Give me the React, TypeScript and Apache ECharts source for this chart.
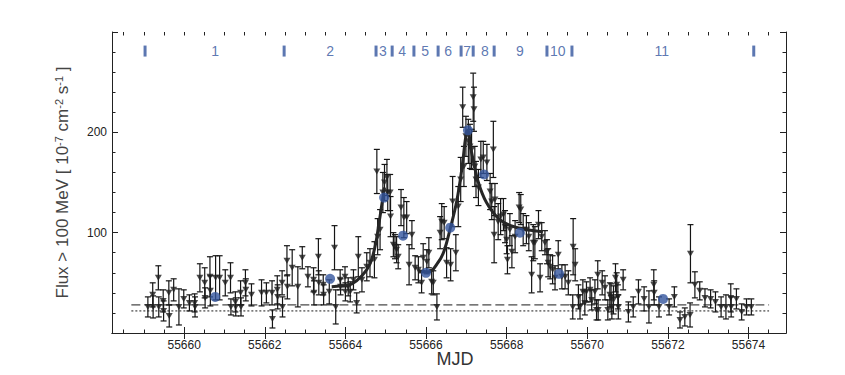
import React, { useEffect, useRef } from 'react';
import * as echarts from 'echarts';

const FONT = '"Liberation Sans", Arial, Helvetica, sans-serif';
const BLUE = '#33559e';
const INK = '#1e1e1e';

// x axis range (MJD) and tick labels
const xMin = 55658.21;
const xMax = 55674.93;
const xLabelValues = [55660, 55662, 55664, 55666, 55668, 55670, 55672, 55674];
const xMajorTicks = [55660, 55662, 55664, 55666, 55668, 55670, 55672, 55674];
const xMinorTicks = [
  55658.5, 55659, 55659.5, 55660, 55660.5, 55661, 55661.5, 55662, 55662.5, 55663, 55663.5,
  55664, 55664.5, 55665, 55665.5, 55666, 55666.5, 55667, 55667.5, 55668, 55668.5, 55669,
  55669.5, 55670, 55670.5, 55671, 55671.5, 55672, 55672.5, 55673, 55673.5, 55674, 55674.5,
];
const yMin = 0;
const yMax = 300;

// observation periods
const boundaryMjd = [55659.03, 55662.48, 55664.76, 55665.16, 55665.7, 55666.3, 55666.87, 55667.17, 55667.69, 55669.0, 55669.62, 55674.13];
const periodLabelMjd = [55660.77, 55663.62, 55664.93, 55665.41, 55665.98, 55666.55, 55667.02, 55667.46, 55668.33, 55669.27, 55671.85];
const periodNames = ['1', '2', '3', '4', '5', '6', '7', '8', '9', '10', '11'];
const periodBandFlux = 281;

// period averages (blue)
const avgMjd = [55660.77, 55663.62, 55664.96, 55665.43, 55666.0, 55666.6, 55667.04, 55667.44, 55668.33, 55669.3, 55671.88];
const avgFlux = [36, 54, 135, 97, 60, 105, 202, 158, 100, 59, 34];

// individual flux points
const obsMjd = [
  55659.10, 55659.22, 55659.23, 55659.36, 55659.37, 55659.48, 55659.49, 55659.62, 55659.63, 55659.74,
  55659.87, 55659.99, 55660.13, 55660.26, 55660.27, 55660.39, 55660.51, 55660.52, 55660.64, 55660.65,
  55660.78, 55660.88, 55661.02, 55661.15, 55661.16, 55661.27, 55661.28, 55661.40, 55661.41, 55661.52,
  55661.53, 55661.67, 55661.92, 55662.04, 55662.18, 55662.19, 55662.31, 55662.32, 55662.43, 55662.44,
  55662.55, 55662.56, 55662.68,
  55662.82, 55662.93, 55663.07, 55663.21, 55663.22, 55663.33, 55663.34, 55663.45, 55663.46, 55663.60,
  55663.73, 55663.76, 55663.87, 55663.88, 55663.99, 55664.00, 55664.07, 55664.12, 55664.20, 55664.28,
  55664.32, 55664.41, 55664.53, 55664.61, 55664.72, 55664.78, 55664.80, 55664.86, 55664.93, 55664.97,
  55665.03, 55665.05, 55665.11, 55665.12, 55665.19, 55665.23, 55665.27, 55665.31, 55665.38, 55665.45,
  55665.52, 55665.58, 55665.65, 55665.73, 55665.81, 55665.89, 55665.93, 55666.02, 55666.07, 55666.14,
  55666.18, 55666.27, 55666.35, 55666.39, 55666.45, 55666.51,
  55666.61, 55666.66, 55666.74, 55666.80, 55666.86, 55666.91, 55666.94, 55666.99, 55667.05, 55667.09,
  55667.13, 55667.17, 55667.19, 55667.21, 55667.24, 55667.30, 55667.36, 55667.42, 55667.51, 55667.59,
  55667.63, 55667.67, 55667.69, 55667.71, 55667.79, 55667.85, 55667.92, 55667.96, 55668.00, 55668.02,
  55668.08, 55668.13, 55668.21, 55668.31, 55668.35, 55668.41, 55668.49, 55668.55, 55668.62, 55668.66,
  55668.70, 55668.79, 55668.83, 55668.87, 55668.95, 55669.00, 55669.03, 55669.08, 55669.14, 55669.20,
  55669.28, 55669.37, 55669.45, 55669.53, 55669.64, 55669.65, 55669.70, 55669.78, 55669.82, 55669.89,
  55669.94, 55669.98, 55670.07, 55670.11, 55670.19, 55670.23,
  55670.26, 55670.27, 55670.37, 55670.44, 55670.51, 55670.56, 55670.59, 55670.61, 55670.65, 55670.70,
  55670.73, 55670.76, 55670.77, 55670.89, 55671.02, 55671.14, 55671.27, 55671.41, 55671.53, 55671.65,
  55671.66, 55671.78, 55672.03, 55672.16, 55672.30, 55672.42, 55672.55, 55672.56, 55672.67, 55672.79,
  55672.92, 55673.06, 55673.18, 55673.32, 55673.44, 55673.56, 55673.57, 55673.70, 55673.83, 55673.95,
  55674.07,
];
const obsFlux = [
  26, 38, 26, 55, 26, 32, 22, 40, 17, 43,
  26, 34, 30, 30, 26, 55, 50, 35, 56, 42,
  55, 55, 50, 55, 26, 31, 26, 40, 26, 50,
  43, 38, 40, 40, 40, 14, 43, 36, 50, 26,
  72, 46, 65,
  46, 75, 56, 53, 40, 76, 50, 48, 38, 41,
  85, 26, 53, 46, 56, 41, 46, 41, 53, 30,
  76, 53, 66, 70, 73, 161, 96, 103, 140, 150,
  155, 140, 140, 116, 88, 86, 83, 76, 125, 115,
  115, 68, 98, 65, 63, 50, 75, 71, 80, 51,
  50, 26, 100, 111, 110, 70,
  68, 131, 80, 126, 153, 225, 166, 196, 191, 186,
  183, 235, 223, 166, 153, 145, 173, 175, 170, 141,
  131, 183, 98, 133, 111, 116, 118, 106, 93, 73,
  103, 81, 96, 125, 123, 103, 103, 96, 58, 90,
  90, 108, 55, 96, 90, 81, 70, 66, 63, 55,
  78, 56, 56, 50, 26, 86, 68, 36, 26, 41,
  30, 41, 43, 33, 41, 23,
  58, 23, 50, 45, 23, 38, 35, 26, 33, 55,
  48, 36, 26, 53, 21, 26, 41, 34, 26, 48,
  40, 26, 26, 36, 13, 16, 18, 79, 48, 42,
  35, 34, 31, 26, 26, 35, 26, 34, 21, 26,
  26,
];
const obsErr = [
  10, 12, 11, 12, 10, 11, 10, 12, 11, 11,
  18, 9, 8, 9, 10, 14, 15, 10, 20, 15,
  22, 22, 13, 15, 8, 10, 9, 12, 9, 13,
  11, 11, 13, 10, 12, 9, 14, 12, 12, 10,
  15, 12, 18,
  20, 11, 10, 12, 12, 18, 12, 10, 10, 12,
  22, 17, 10, 8, 10, 9, 9, 10, 10, 10,
  20, 12, 14, 14, 18, 22, 18, 20, 20, 18,
  18, 18, 18, 20, 12, 12, 13, 12, 18, 20,
  16, 20, 14, 12, 13, 10, 14, 12, 15, 12,
  12, 13, 16, 18, 16, 15,
  16, 25, 18, 20, 22, 20, 20, 20, 22, 22,
  20, 24, 22, 20, 18, 18, 18, 16, 18, 18,
  18, 28, 28, 16, 18, 18, 16, 16, 14, 14,
  16, 16, 16, 15, 15, 16, 14, 14, 18, 18,
  16, 14, 14, 14, 12, 12, 14, 12, 14, 12,
  14, 12, 12, 12, 12, 28, 16, 12, 12, 12,
  12, 10, 12, 10, 12, 10,
  14, 10, 12, 12, 10, 12, 14, 12, 14, 14,
  12, 12, 12, 10, 10, 10, 12, 12, 16, 15,
  12, 10, 8, 10, 8, 9, 12, 29, 13, 9,
  9, 9, 10, 10, 12, 14, 10, 10, 8, 8,
  8,
];

// fitted flare profiles
const fit1Mjd = [55663.66, 55663.9, 55664.16, 55664.41, 55664.61, 55664.74, 55664.82, 55664.9, 55664.97];
const fit1Flux = [46, 47, 49, 57, 69, 87, 106, 127, 145];
const fit2Mjd = [55665.81, 55666.06, 55666.31, 55666.45, 55666.6, 55666.76, 55666.89, 55666.99, 55667.03, 55667.13, 55667.3, 55667.5, 55667.8, 55668.1, 55668.5, 55668.9];
const fit2Flux = [62, 61, 71, 82, 104, 131, 164, 197, 202, 180, 150, 130, 114, 107, 103, 101];

// background levels
const levelMjd = [55658.69, 55674.51];
const dashedLevel = [28, 28];
const dottedLevel = [22, 22];

function buildOption(): any {
  const obsData = obsMjd.map((m, i) => [m, obsFlux[i], obsErr[i]]);
  const baseX = {
    type: 'value',
    min: xMin,
    max: xMax,
    splitLine: { show: false },
  };
  const baseY = {
    type: 'value',
    min: yMin,
    max: yMax,
    interval: 100,
    splitLine: { show: false },
  };
  return {
    animation: false,
    backgroundColor: '#ffffff',
    textStyle: { fontFamily: FONT },
    grid: { left: 112, right: 59, top: 32, bottom: 42, containLabel: false, outerBoundsMode: 'none' },
    xAxis: [
      {
        ...baseX,
        position: 'bottom',
        axisLine: { show: true, lineStyle: { color: '#222', width: 1 } },
        axisTick: { show: true, inside: true, length: 6, customValues: xMajorTicks, lineStyle: { color: '#222' } },
        axisLabel: {
          show: true,
          customValues: xLabelValues,
          formatter: (v: number) => String(Math.round(v)),
          fontFamily: FONT,
          fontSize: 12,
          color: '#222',
          margin: 6,
        },
        name: 'MJD',
        nameLocation: 'middle',
        nameGap: 17,
        nameMoveOverlap: false,
        nameTextStyle: { fontFamily: FONT, fontSize: 18, color: '#333', padding: [0, 0, 0, 12] },
      },
      {
        ...baseX,
        position: 'top',
        axisLine: { show: true, lineStyle: { color: '#222', width: 1 } },
        axisTick: { show: true, inside: true, length: 6, customValues: xMajorTicks, lineStyle: { color: '#222' } },
        axisLabel: { show: false },
      },
      {
        ...baseX,
        position: 'bottom',
        axisLine: { show: false },
        axisTick: { show: true, inside: true, length: 3.5, customValues: xMinorTicks, lineStyle: { color: '#222' } },
        axisLabel: { show: false },
      },
      {
        ...baseX,
        position: 'top',
        axisLine: { show: false },
        axisTick: { show: true, inside: true, length: 3.5, customValues: xMinorTicks, lineStyle: { color: '#222' } },
        axisLabel: { show: false },
      },
    ],
    yAxis: [
      {
        ...baseY,
        position: 'left',
        axisLine: { show: true, lineStyle: { color: '#222', width: 1 } },
        axisTick: { show: true, inside: true, length: 6, lineStyle: { color: '#222' } },
        minorTick: { show: true, splitNumber: 5, length: 3.5, lineStyle: { color: '#222' } },
        axisLabel: {
          show: true,
          formatter: (v: number) => (v === 100 || v === 200 ? String(v) : ''),
          fontFamily: FONT,
          fontSize: 12,
          color: '#222',
          margin: 5,
        },
        name: 'Flux > 100 MeV [ 10{sup|-7} cm{sup|-2} s{sup|-1} ]',
        nameLocation: 'middle',
        nameGap: 40,
        nameMoveOverlap: false,
        nameTextStyle: {
          fontFamily: FONT,
          fontSize: 17,
          color: '#444',
          rich: {
            sup: { fontFamily: FONT, fontSize: 11, color: '#444', padding: [0, 0, 8, 0] },
          },
        },
      },
      {
        ...baseY,
        position: 'right',
        axisLine: { show: true, lineStyle: { color: '#222', width: 1 } },
        axisTick: { show: true, inside: true, length: 6, lineStyle: { color: '#222' } },
        minorTick: { show: true, splitNumber: 5, length: 3.5, lineStyle: { color: '#222' } },
        axisLabel: { show: false },
      },
    ],
    series: [
      {
        type: 'line',
        silent: true,
        data: levelMjd.map((m, i) => [m, dashedLevel[i]]),
        showSymbol: false,
        lineStyle: { color: '#1a1a1a', width: 1, type: [9, 4] },
        z: 1,
      },
      {
        type: 'line',
        silent: true,
        data: levelMjd.map((m, i) => [m, dottedLevel[i]]),
        showSymbol: false,
        lineStyle: { color: '#1a1a1a', width: 1, type: [2, 2] },
        z: 1,
      },
      {
        type: 'custom',
        silent: true,
        data: obsData,
        encode: { x: 0, y: 1 },
        renderItem: (params: any, api: any) => {
          const x = api.value(0);
          const y = api.value(1);
          const e = api.value(2);
          const top = api.coord([x, y + e]);
          const bot = api.coord([x, y - e]);
          const cw = 3;
          const st = { stroke: '#151515', lineWidth: 1.2 };
          return {
            type: 'group',
            children: [
              { type: 'line', shape: { x1: top[0], y1: top[1], x2: bot[0], y2: bot[1] }, style: st },
              { type: 'line', shape: { x1: top[0] - cw, y1: top[1], x2: top[0] + cw, y2: top[1] }, style: st },
              { type: 'line', shape: { x1: bot[0] - cw, y1: bot[1], x2: bot[0] + cw, y2: bot[1] }, style: st },
            ],
          };
        },
        z: 2,
      },
      {
        type: 'scatter',
        silent: true,
        data: obsData.map((d) => [d[0], d[1]]),
        symbol: 'triangle',
        symbolRotate: 180,
        symbolSize: [7, 6],
        itemStyle: { color: INK },
        z: 3,
      },
      {
        type: 'line',
        silent: true,
        data: fit1Mjd.map((m, i) => [m, fit1Flux[i]]),
        smooth: 0.4,
        showSymbol: false,
        lineStyle: { color: '#262626', width: 3 },
        z: 4,
      },
      {
        type: 'line',
        silent: true,
        data: fit2Mjd.map((m, i) => [m, fit2Flux[i]]),
        smooth: 0.4,
        showSymbol: false,
        lineStyle: { color: '#262626', width: 3 },
        z: 4,
      },
      {
        type: 'scatter',
        silent: true,
        data: avgMjd.map((m, i) => [m, avgFlux[i]]),
        symbol: 'circle',
        symbolSize: 10,
        itemStyle: { color: BLUE },
        z: 5,
      },
      {
        type: 'scatter',
        silent: true,
        data: boundaryMjd.map((m) => [m, periodBandFlux]),
        symbol: 'rect',
        symbolSize: [3, 11],
        itemStyle: { color: BLUE },
        z: 5,
      },
      {
        type: 'scatter',
        silent: true,
        data: periodLabelMjd.map((m, i) => ({ value: [m, periodBandFlux], name: periodNames[i] })),
        symbolSize: 0,
        label: {
          show: true,
          position: 'inside',
          formatter: (p: any) => p.name,
          fontFamily: FONT,
          fontSize: 14,
          color: BLUE,
        },
        z: 5,
      },
    ],
  };
}

export default function App() {
  const ref = useRef<HTMLDivElement>(null);
  useEffect(() => {
    if (!ref.current) return;
    const chart = echarts.init(ref.current, null, { renderer: 'svg' });
    chart.setOption(buildOption());
    return () => chart.dispose();
  }, []);
  return (
    <div
      ref={ref}
      style={{ position: 'absolute', left: 0, top: 0, width: 845, height: 375, background: '#ffffff' }}
    />
  );
}
